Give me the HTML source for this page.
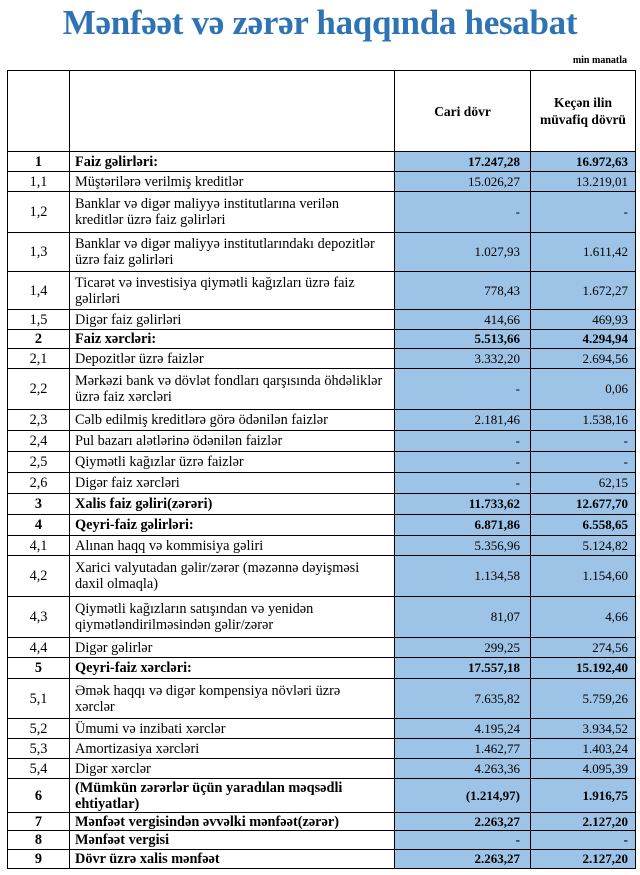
<!DOCTYPE html>
<html><head><meta charset="utf-8"><style>
body{margin:0;width:640px;height:875px;background:#fff;font-family:"Liberation Serif",serif;position:relative;overflow:hidden}
h1{position:absolute;top:1px;left:0;width:640px;margin:0;text-align:center;font-size:35px;line-height:44px;color:#2e74b5;font-weight:bold;letter-spacing:-0.3px}
.unit{position:absolute;top:55px;right:13px;font-size:10px;font-weight:bold}
table{position:absolute;left:7px;top:70px;border-collapse:collapse;width:628px;font-size:14.3px;table-layout:fixed}
td{border:1px solid #000;padding:0 5px;line-height:16px;vertical-align:middle}
td:first-child{text-align:center}
td.n{text-align:right;background:#9dc3e6;font-size:13px;padding-right:10px}
td.n:last-child{padding-right:7px}
tr.b td{font-weight:bold}
th{border:1px solid #000;font-size:13.5px;line-height:17px;padding:0}
</style></head><body>
<h1>Mənfəət və zərər haqqında hesabat</h1>
<div class="unit">min manatla</div>
<table>
<colgroup><col style="width:62px"><col style="width:325px"><col style="width:136px"><col style="width:105px"></colgroup>
<tr style="height:81px"><th></th><th></th><th>Cari dövr</th><th>Keçən ilin<br>müvafiq dövrü</th></tr>
<tr class="b" style="height:20px"><td>1</td><td>Faiz gəlirləri:</td><td class="n">17.247,28</td><td class="n">16.972,63</td></tr>
<tr style="height:20px"><td>1,1</td><td>Müştərilərə verilmiş kreditlər</td><td class="n">15.026,27</td><td class="n">13.219,01</td></tr>
<tr style="height:41px"><td>1,2</td><td>Banklar və digər maliyyə institutlarına verilən kreditlər üzrə faiz gəlirləri</td><td class="n">-</td><td class="n">-</td></tr>
<tr style="height:39px"><td>1,3</td><td>Banklar və digər maliyyə institutlarındakı depozitlər üzrə faiz gəlirləri</td><td class="n">1.027,93</td><td class="n">1.611,42</td></tr>
<tr style="height:38px"><td>1,4</td><td>Ticarət və investisiya qiymətli kağızları üzrə faiz gəlirləri</td><td class="n">778,43</td><td class="n">1.672,27</td></tr>
<tr style="height:20px"><td>1,5</td><td>Digər faiz gəlirləri</td><td class="n">414,66</td><td class="n">469,93</td></tr>
<tr class="b" style="height:19px"><td>2</td><td>Faiz xərcləri:</td><td class="n">5.513,66</td><td class="n">4.294,94</td></tr>
<tr style="height:20px"><td>2,1</td><td>Depozitlər üzrə faizlər</td><td class="n">3.332,20</td><td class="n">2.694,56</td></tr>
<tr style="height:41px"><td>2,2</td><td>Mərkəzi bank və dövlət fondları qarşısında öhdəliklər üzrə faiz xərcləri</td><td class="n">-</td><td class="n">0,06</td></tr>
<tr style="height:21px"><td>2,3</td><td>Cəlb edilmiş kreditlərə görə ödənilən faizlər</td><td class="n">2.181,46</td><td class="n">1.538,16</td></tr>
<tr style="height:21px"><td>2,4</td><td>Pul bazarı alətlərinə ödənilən faizlər</td><td class="n">-</td><td class="n">-</td></tr>
<tr style="height:21px"><td>2,5</td><td>Qiymətli kağızlar üzrə faizlər</td><td class="n">-</td><td class="n">-</td></tr>
<tr style="height:21px"><td>2,6</td><td>Digər faiz xərcləri</td><td class="n">-</td><td class="n">62,15</td></tr>
<tr class="b" style="height:21px"><td>3</td><td>Xalis faiz gəliri(zərəri)</td><td class="n">11.733,62</td><td class="n">12.677,70</td></tr>
<tr class="b" style="height:21px"><td>4</td><td>Qeyri-faiz gəlirləri:</td><td class="n">6.871,86</td><td class="n">6.558,65</td></tr>
<tr style="height:20px"><td>4,1</td><td>Alınan haqq və kommisiya gəliri</td><td class="n">5.356,96</td><td class="n">5.124,82</td></tr>
<tr style="height:41px"><td>4,2</td><td>Xarici valyutadan gəlir/zərər (məzənnə dəyişməsi daxil olmaqla)</td><td class="n">1.134,58</td><td class="n">1.154,60</td></tr>
<tr style="height:41px"><td>4,3</td><td>Qiymətli kağızların satışından və yenidən qiymətləndirilməsindən gəlir/zərər</td><td class="n">81,07</td><td class="n">4,66</td></tr>
<tr style="height:20px"><td>4,4</td><td>Digər gəlirlər</td><td class="n">299,25</td><td class="n">274,56</td></tr>
<tr class="b" style="height:21px"><td>5</td><td>Qeyri-faiz xərcləri:</td><td class="n">17.557,18</td><td class="n">15.192,40</td></tr>
<tr style="height:40px"><td>5,1</td><td>Əmək haqqı və digər kompensiya növləri üzrə<br>xərclər</td><td class="n">7.635,82</td><td class="n">5.759,26</td></tr>
<tr style="height:20px"><td>5,2</td><td>Ümumi və inzibati xərclər</td><td class="n">4.195,24</td><td class="n">3.934,52</td></tr>
<tr style="height:20px"><td>5,3</td><td>Amortizasiya xərcləri</td><td class="n">1.462,77</td><td class="n">1.403,24</td></tr>
<tr style="height:20px"><td>5,4</td><td>Digər xərclər</td><td class="n">4.263,36</td><td class="n">4.095,39</td></tr>
<tr class="b" style="height:34px"><td>6</td><td>(Mümkün zərərlər üçün yaradılan məqsədli ehtiyatlar)</td><td class="n">(1.214,97)</td><td class="n">1.916,75</td></tr>
<tr class="b" style="height:18px"><td>7</td><td>Mənfəət vergisindən əvvəlki mənfəət(zərər)</td><td class="n">2.263,27</td><td class="n">2.127,20</td></tr>
<tr class="b" style="height:19px"><td>8</td><td>Mənfəət vergisi</td><td class="n">-</td><td class="n">-</td></tr>
<tr class="b" style="height:19px"><td>9</td><td>Dövr üzrə xalis mənfəət</td><td class="n">2.263,27</td><td class="n">2.127,20</td></tr>
</table>
</body></html>
